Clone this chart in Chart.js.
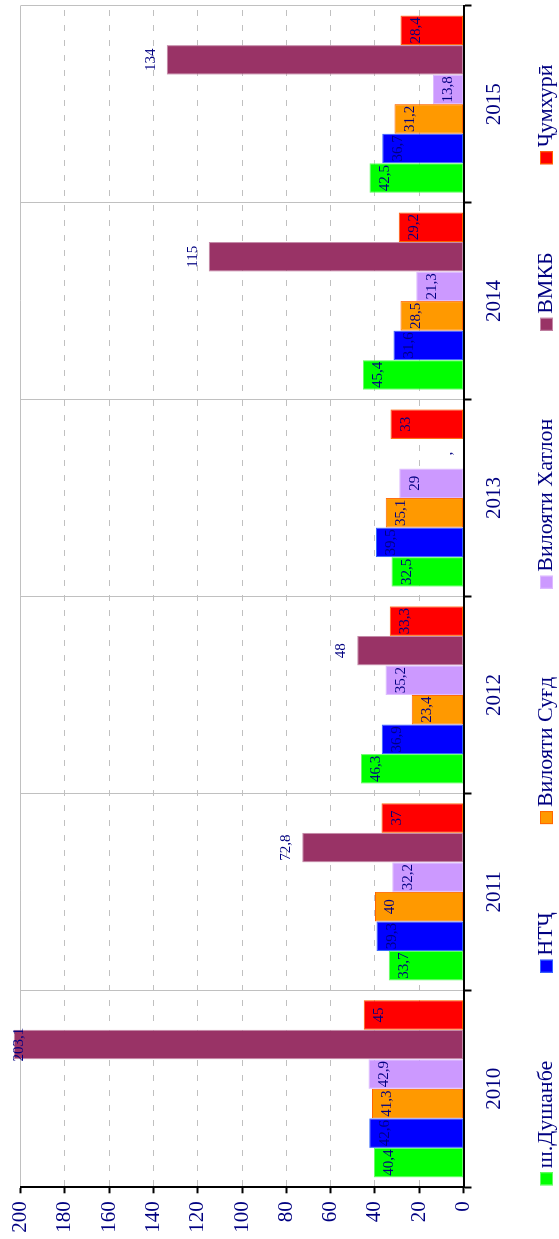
<!DOCTYPE html>
<html>
<head>
<meta charset="utf-8">
<script src="https://cdn.jsdelivr.net/npm/chart.js@4.4.0/dist/chart.umd.min.js"></script>
<style>
  html, body { margin: 0; padding: 0; background: #fff; overflow: hidden; }
  /* the chart is laid out landscape, then turned a quarter left */
  #wrap {
    position: absolute; left: 0; top: 0;
    width: 1239px; height: 559px;
    transform-origin: 0 0;
    transform: translate(0, 1239px) rotate(-90deg);
  }
</style>
</head>
<body>
<div id="wrap"><canvas id="chart" width="1239" height="559"></canvas></div>
<script>
// ---- data ----
const years = ['2010', '2011', '2012', '2013', '2014', '2015'];
const dushanbe = [40.4, 33.7, 46.3, 32.5, 45.4, 42.5];
const ntj      = [42.6, 39.3, 36.9, 39.5, 31.6, 36.7];
const sughd    = [41.3, 40, 23.4, 35.1, 28.5, 31.2];
const khatlon  = [42.9, 32.2, 35.2, 29, 21.3, 13.8];
const vmkb     = [203.1, 72.8, 48, null, 115, 134];
const republic = [45, 37, 33.3, 33, 29.2, 28.4];
const valueTicks = { min: 0, max: 200, step: 20 };

const NAVY = '#000080';
const GRID = '#c0c0c0';
const FONT = "'Liberation Serif', 'Times New Roman', serif";

// value labels on bars (comma decimals)
const barLabels = {
  id: 'barLabels',
  afterDatasetsDraw(chart) {
    const ctx = chart.ctx;
    const yScale = chart.scales.y;
    ctx.save();
    ctx.font = '15px ' + FONT;
    ctx.fillStyle = NAVY;
    ctx.textAlign = 'center';
    chart.data.datasets.forEach((ds, di) => {
      const meta = chart.getDatasetMeta(di);
      meta.data.forEach((bar, i) => {
        const v = ds.data[i];
        const txt = v == null ? ',' : String(v).replace('.', ',');
        const top = v == null ? yScale.getPixelForValue(0) : bar.y;
        if (ds.outside) {
          ctx.textBaseline = 'alphabetic';
          ctx.fillText(txt, bar.x, Math.max(top - 12, chart.chartArea.top + 2));
        } else {
          ctx.textBaseline = 'top';
          ctx.fillText(txt, bar.x, top + 8);
        }
      });
    });
    ctx.restore();
  }
};

// one-row legend with wide gaps
const rowLegend = {
  id: 'rowLegend',
  afterDraw(chart, args, opts) {
    const ctx = chart.ctx;
    ctx.save();
    ctx.font = opts.fontSize + 'px ' + FONT;
    ctx.textBaseline = 'middle';
    ctx.textAlign = 'left';
    let x = chart.chartArea.left + opts.startOffset;
    const cy = opts.y;
    chart.data.datasets.forEach(ds => {
      ctx.fillStyle = ds.backgroundColor;
      ctx.fillRect(x, cy - opts.box / 2, opts.box, opts.box);
      ctx.strokeStyle = ds.borderColor;
      ctx.lineWidth = 1;
      ctx.strokeRect(x + 0.5, cy - opts.box / 2 + 0.5, opts.box - 1, opts.box - 1);
      x += opts.box + opts.textGap;
      ctx.fillStyle = NAVY;
      ctx.fillText(ds.label, x, cy);
      x += ctx.measureText(ds.label).width + opts.itemGap;
    });
    ctx.restore();
  }
};

function series(label, data, bg, border, extra) {
  return Object.assign({
    label: label,
    data: data,
    backgroundColor: bg,
    borderColor: border,
    borderWidth: 1,
    borderSkipped: false,
    barPercentage: 1,
    categoryPercentage: 0.9
  }, extra || {});
}

new Chart(document.getElementById('chart'), {
  type: 'bar',
  data: {
    labels: years,
    datasets: [
      series('ш.Душанбе', dushanbe, '#00FF00', '#66FF66'),
      series('НТҶ', ntj, '#0000FF', '#3366FF'),
      series('Вилояти Суғд', sughd, '#FF9900', '#FF6600'),
      series('Вилояти Хатлон', khatlon, '#CC99FF', '#DDBBFF'),
      series('ВМКБ', vmkb, '#993366', '#C48AA8', { outside: true, clip: false }),
      series('Ҷумхурӣ', republic, '#FF0000', '#FF6600')
    ]
  },
  options: {
    responsive: false,
    animation: false,
    layout: { padding: { top: 17.5, right: 5.7, left: 0, bottom: 0 } },
    plugins: {
      legend: { display: false },
      tooltip: { enabled: false },
      rowLegend: { y: 546.5, box: 13, textGap: 4, itemGap: 88, startOffset: 2, fontSize: 22 }
    },
    scales: {
      x: {
        offset: true,
        grid: { offset: true, color: GRID, lineWidth: 1, tickColor: '#000', tickLength: 8, tickWidth: 2 },
        border: { color: '#000', width: 2 },
        ticks: { color: NAVY, font: { family: FONT, size: 21 }, padding: 10, maxRotation: 0 },
        afterFit(scale) { scale.height = 95.5; }
      },
      y: {
        min: valueTicks.min,
        max: valueTicks.max,
        ticks: { stepSize: valueTicks.step, color: NAVY, font: { family: FONT, size: 21 }, padding: 8 },
        grid: { color: GRID, lineWidth: 1, tickColor: '#000', tickLength: 6, tickWidth: 2 },
        border: {
          color: '#000',
          width: 2,
          dash: c => (c.tick && c.tick.value === valueTicks.max) ? [] : [6, 9]
        },
        afterFit(scale) { scale.width = 51.7; }
      }
    }
  },
  plugins: [barLabels, rowLegend]
});
</script>
</body>
</html>
